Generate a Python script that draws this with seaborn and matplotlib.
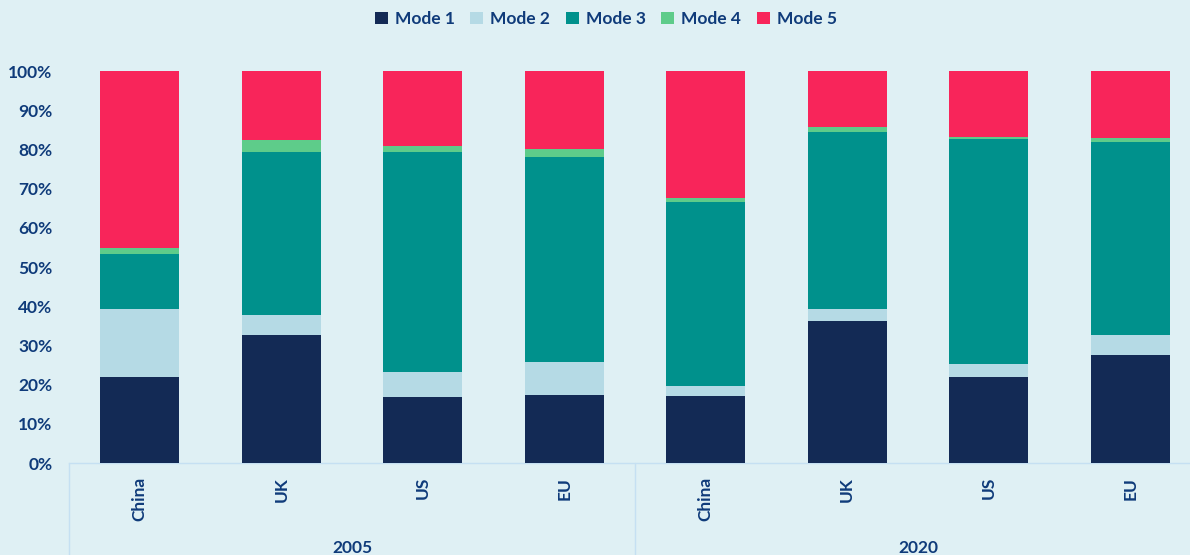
import matplotlib
matplotlib.use("Agg")
import matplotlib.pyplot as plt
from matplotlib.patches import Patch
from matplotlib.ticker import PercentFormatter
import numpy as np
import pandas as pd
import seaborn as sns

# data (shares in %)
years = ["2005", "2020"]
countries = ["China", "UK", "US", "EU"]
modes = ["Mode 1", "Mode 2", "Mode 3", "Mode 4", "Mode 5"]
mode1 = [21.9, 32.7, 16.8, 17.3, 17.0, 36.2, 21.9, 27.5]
mode2 = [17.4, 5.0, 6.5, 8.4, 2.7, 3.2, 3.3, 5.1]
mode3 = [14.0, 41.7, 56.1, 52.4, 47.0, 45.1, 57.4, 49.3]
mode4 = [1.5, 3.0, 1.4, 1.9, 1.0, 1.1, 0.6, 1.1]
mode5 = [45.2, 17.6, 19.2, 20.0, 32.3, 14.4, 16.8, 17.0]

colors = ["#132a55", "#b5dae5", "#00918c", "#5ecc8a", "#f8255a"]
bg = "#dff0f4"
txt = "#0f3b7a"
line_col = "#c5e0f2"

keys = [y + " " + c for y in years for c in countries]
df = pd.DataFrame({"key": keys, "Mode 1": mode1, "Mode 2": mode2,
                   "Mode 3": mode3, "Mode 4": mode4, "Mode 5": mode5})
df[modes] = df[modes] / 100.0
cum = df[modes].cumsum(axis=1)

sns.set_theme(style="white")
plt.rcParams["font.family"] = ["Lato", "DejaVu Sans"]
plt.rcParams["font.weight"] = "bold"

fig = plt.figure(figsize=(11.9, 5.55), dpi=100, facecolor=bg)
W, H = 1190, 555
slot = 141.5
left_px = 69
ax = fig.add_axes([left_px / W, (H - 463) / H, (W - left_px) / W, (463 - 71) / H])
ax.set_facecolor(bg)

# stacked bars: draw cumulative totals from the top layer down
for m, c in reversed(list(zip(modes, colors))):
    sns.barplot(x=df["key"], y=cum[m], order=keys, color=c, saturation=1,
                width=0.56, ax=ax, zorder=3, linewidth=0)

ax.set_xlim(-0.5, -0.5 + (W - left_px) / slot)
ax.set_ylim(0, 1)
ax.set_xlabel("")
ax.set_ylabel("")
ax.set_yticks(np.arange(0, 1.01, 0.1))
ax.yaxis.set_major_formatter(PercentFormatter(1.0, decimals=0))
ax.tick_params(axis="y", length=0, pad=12, labelsize=12.5, labelcolor=txt)
ax.set_xticks(range(len(keys)))
ax.set_xticklabels(countries * 2, rotation=90, fontsize=12.5, color=txt)
ax.tick_params(axis="x", length=0, pad=10)

for s in ["left", "right", "top"]:
    ax.spines[s].set_visible(False)
ax.spines["bottom"].set_color(line_col)
ax.spines["bottom"].set_linewidth(1)

# category box below the axis
tr = ax.get_xaxis_transform()
for xb in [-0.5, 3.5]:
    ax.plot([xb, xb], [0, -0.3], color=line_col, lw=1, transform=tr, clip_on=False)
for i, y in enumerate(years):
    ax.text(1.5 + 4 * i, -0.217, y, transform=tr, ha="center", va="center",
            fontsize=12.5, color=txt, fontweight="bold")

handles = [Patch(facecolor=c, edgecolor="none", label=m) for m, c in zip(modes, colors)]
fig.legend(handles=handles, loc="center", bbox_to_anchor=(0.509, 1 - 19 / H), ncol=5,
           frameon=False, fontsize=12.5, handlelength=0.75, handleheight=0.75,
           handletextpad=0.4, columnspacing=0.9, labelcolor=txt)

fig.savefig("out.png", dpi=100, facecolor=bg)
